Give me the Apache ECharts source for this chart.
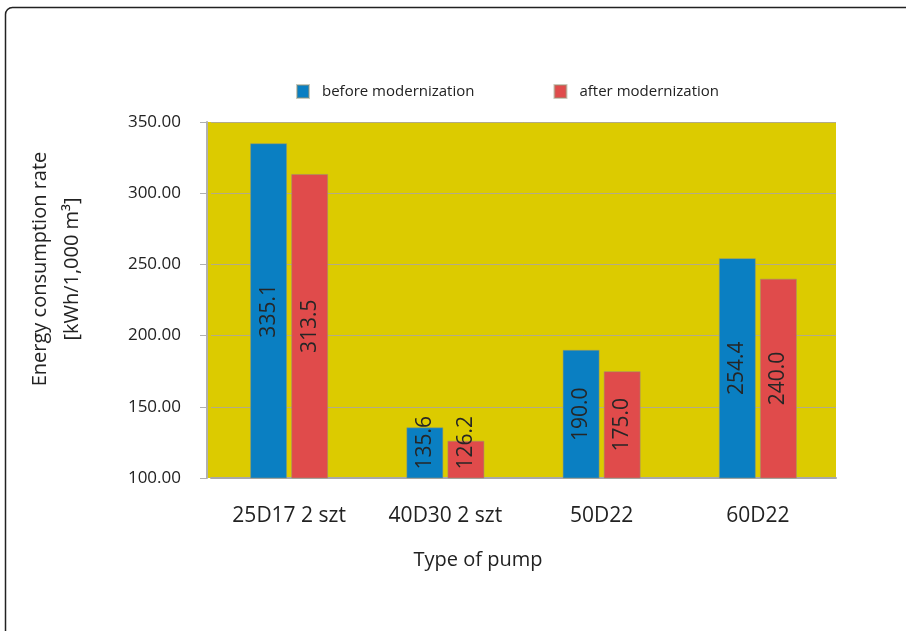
<!DOCTYPE html>
<html>
<head>
<meta charset="utf-8">
<script src="https://cdn.jsdelivr.net/npm/echarts@6/dist/echarts.min.js"></script>
<style>
  html, body { margin: 0; padding: 0; background: #fff; }
  #chart { width: 906px; height: 631px; }
</style>
</head>
<body>
<div id="chart"></div>
<script>
// Pump types and energy consumption rates [kWh/1,000 m³]
var categories = ['25D17 2 szt', '40D30 2 szt', '50D22', '60D22'];
var seriesNames = ['before modernization', 'after modernization'];
var beforeValues = [335.1, 135.6, 190.0, 254.4];
var afterValues = [313.5, 126.2, 175.0, 240.0];
var yTicks = [100, 150, 200, 250, 300, 350];

var FONT = '"Open Sans", "Noto Sans", sans-serif';
var yMin = yTicks[0], yMax = yTicks[yTicks.length - 1];
var plotLeft = 211, plotRight = 836, plotTop = 122, plotBottom = 478;
var axisShift = 4;
var YELLOW = '#dccb00';

// Labels that do not fit inside a short bar start near its base instead
function buildData(values) {
  return values.map(function (v) {
    var h = (v - yMin) / (yMax - yMin) * (plotBottom - plotTop);
    if (h < 70) {
      return {
        value: v,
        label: { position: 'insideBottom', distance: 9, align: 'left', verticalAlign: 'middle' }
      };
    }
    return { value: v };
  });
}

var labelStyle = {
  show: true,
  position: 'inside',
  rotate: 90,
  align: 'center',
  verticalAlign: 'middle',
  color: '#262626',
  fontSize: 21,
  fontFamily: FONT,
  formatter: function (p) { return p.value.toFixed(1); }
};

var chart = echarts.init(document.getElementById('chart'), null, { renderer: 'canvas' });
chart.setOption({
  animation: false,
  backgroundColor: '#fff',
  textStyle: { fontFamily: FONT },
  legend: {
    data: seriesNames,
    top: 79,
    left: 291,
    itemWidth: 12,
    itemHeight: 13,
    itemGap: 79,
    textStyle: { fontSize: 15, color: '#222', fontFamily: FONT, padding: [0, 0, 0, 8] },
    icon: 'rect'
  },
  grid: {
    left: plotLeft, right: 906 - plotRight, top: plotTop, bottom: 631 - plotBottom,
    show: true, backgroundColor: YELLOW, borderWidth: 0
  },
  xAxis: {
    type: 'category',
    data: categories,
    axisLine: { lineStyle: { color: '#a8a8a8', width: 2 } },
    axisTick: { show: false },
    axisLabel: { fontSize: 21, color: '#222', margin: 28, fontFamily: FONT }
  },
  yAxis: {
    type: 'value',
    min: yMin,
    max: yMax,
    interval: 50,
    offset: axisShift,
    axisLine: { show: true, lineStyle: { color: '#b0b0b0', width: 2 } },
    axisTick: { show: true, length: 7, lineStyle: { color: '#b0b0b0' } },
    splitLine: { lineStyle: { color: '#b3ab86', width: 1 } },
    axisLabel: { fontSize: 17, color: '#222', margin: 26, fontFamily: FONT, formatter: function (v) { return v.toFixed(2); } }
  },
  series: [
    {
      name: seriesNames[0],
      type: 'bar',
      data: buildData(beforeValues),
      barWidth: 37,
      barGap: '11%',
      itemStyle: { color: '#0a7fc2', borderColor: 'rgba(150,150,120,0.5)', borderWidth: 1 },
      label: labelStyle
    },
    {
      name: seriesNames[1],
      type: 'bar',
      data: buildData(afterValues),
      barWidth: 37,
      itemStyle: { color: '#e04b4b', borderColor: 'rgba(150,150,120,0.5)', borderWidth: 1 },
      label: labelStyle
    }
  ],
  graphic: [
    {
      // plot background continues up to the shifted value axis
      type: 'rect',
      z: -1,
      shape: { x: plotLeft - axisShift, y: plotTop, width: axisShift, height: plotBottom - plotTop },
      style: { fill: YELLOW },
      silent: true
    },
    {
      type: 'rect',
      shape: { x: 5.5, y: 7.5, width: 960, height: 680, r: 7 },
      style: { fill: 'none', stroke: '#222', lineWidth: 1.5 },
      silent: true
    },
    {
      type: 'text',
      x: 56, y: 269,
      rotation: Math.PI / 2,
      style: {
        text: 'Energy consumption rate\n[kWh/1,000 m³]',
        fill: '#222',
        font: '20px ' + FONT,
        align: 'center',
        verticalAlign: 'middle',
        lineHeight: 32
      }
    },
    {
      type: 'text',
      x: 478, y: 560,
      style: {
        text: 'Type of pump',
        fill: '#222',
        font: '20px ' + FONT,
        align: 'center',
        verticalAlign: 'middle'
      }
    }
  ]
});
</script>
</body>
</html>
